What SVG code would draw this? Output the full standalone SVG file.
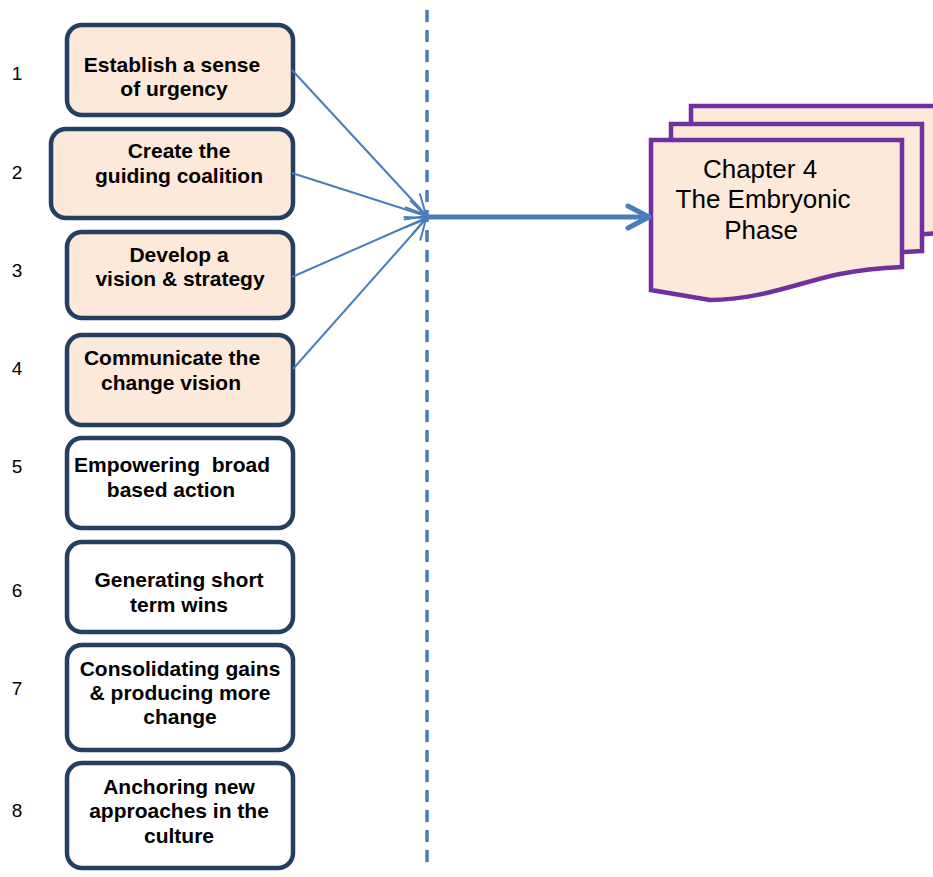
<svg xmlns="http://www.w3.org/2000/svg" width="933" height="877" viewBox="0 0 933 877">
<defs>
<style>
.box{stroke:#243F60;stroke-width:4.5;}
.hot{fill:#FDE9D9;}
.cold{fill:#FFFFFF;}
.lbl{font-family:"Liberation Sans",Arial,sans-serif;font-size:21px;font-weight:bold;fill:#000;text-anchor:middle;}
.num{font-family:"Liberation Sans",Arial,sans-serif;font-size:19px;fill:#000;text-anchor:middle;}
.doc{fill:#FDE9D9;stroke:#7030A0;stroke-width:4.5;stroke-linejoin:miter;}
.ch{font-family:"Liberation Sans",Arial,sans-serif;font-size:26px;fill:#000;text-anchor:middle;}
.thin{stroke:#4A7EBB;stroke-width:2;fill:none;}
</style>
<marker id="openArrow" markerUnits="userSpaceOnUse" markerWidth="30" markerHeight="30" refX="0" refY="0" viewBox="-25 -15 30 30" orient="auto" overflow="visible">
<path d="M-20,-10 L0,0 L-20,10" fill="none" stroke="#4A7EBB" stroke-width="2"/>
</marker>
<path id="docShape" d="M651,140 H902 V267 C880,268 860,270 840,274 C800,282 760,300 710,300 L651,290 Z"/>
</defs>
<rect width="933" height="877" fill="#FFFFFF"/>

<g id="numbers">
<text class="num" x="17" y="80">1</text>
<text class="num" x="17" y="179">2</text>
<text class="num" x="17" y="277">3</text>
<text class="num" x="17" y="375">4</text>
<text class="num" x="17" y="473">5</text>
<text class="num" x="17" y="597">6</text>
<text class="num" x="17" y="695">7</text>
<text class="num" x="17" y="817">8</text>
</g>

<g id="step1">
<rect class="box hot" x="67" y="25" width="226" height="90" rx="15"/>
<text class="lbl" x="172" y="72">Establish a sense</text>
<text class="lbl" x="174" y="96">of urgency</text>
</g>
<g id="step2">
<rect class="box hot" x="51" y="129" width="242" height="89" rx="15"/>
<text class="lbl" x="179" y="158">Create the</text>
<text class="lbl" x="179" y="183">guiding coalition</text>
</g>
<g id="step3">
<rect class="box hot" x="67" y="232" width="226" height="86" rx="15"/>
<text class="lbl" x="179" y="262">Develop a</text>
<text class="lbl" x="180" y="286">vision &amp; strategy</text>
</g>
<g id="step4">
<rect class="box hot" x="67" y="335" width="226" height="90" rx="15"/>
<text class="lbl" x="172" y="365">Communicate the</text>
<text class="lbl" x="171" y="390">change vision</text>
</g>
<g id="step5">
<rect class="box cold" x="67" y="438" width="226" height="90" rx="15"/>
<text class="lbl" x="172" y="472" xml:space="preserve">Empowering  broad</text>
<text class="lbl" x="171" y="497">based action</text>
</g>
<g id="step6">
<rect class="box cold" x="67" y="542" width="226" height="90" rx="15"/>
<text class="lbl" x="179" y="587">Generating short</text>
<text class="lbl" x="179" y="612">term wins</text>
</g>
<g id="step7">
<rect class="box cold" x="67" y="645" width="226" height="105" rx="15"/>
<text class="lbl" x="180" y="676">Consolidating gains</text>
<text class="lbl" x="180" y="700">&amp; producing more</text>
<text class="lbl" x="180" y="724">change</text>
</g>
<g id="step8">
<rect class="box cold" x="67" y="763" width="226" height="105" rx="15"/>
<text class="lbl" x="179" y="794">Anchoring new</text>
<text class="lbl" x="179" y="818">approaches in the</text>
<text class="lbl" x="179" y="843">culture</text>
</g>

<g id="divider">
<line x1="427" y1="10" x2="427" y2="870" stroke="#4A7EBB" stroke-width="3.5" stroke-dasharray="12 8"/>
</g>

<g id="chapter4">
<use href="#docShape" class="doc" transform="translate(40,-34)"/>
<use href="#docShape" class="doc" transform="translate(20,-16)"/>
<use href="#docShape" class="doc"/>
<text class="ch" x="760" y="178">Chapter 4</text>
<text class="ch" x="763" y="208">The Embryonic</text>
<text class="ch" x="761" y="239">Phase</text>
</g>

<g id="connectors">
<line class="thin" x1="292" y1="70" x2="426" y2="215" marker-end="url(#openArrow)"/>
<line class="thin" x1="292" y1="173" x2="426" y2="216" marker-end="url(#openArrow)"/>
<line class="thin" x1="292" y1="277" x2="426" y2="218" marker-end="url(#openArrow)"/>
<line class="thin" x1="293" y1="369" x2="426" y2="219" marker-end="url(#openArrow)"/>
<line x1="427" y1="217" x2="648" y2="217" stroke="#4A7EBB" stroke-width="5"/>
<path d="M628,206 L649,217 L628,228" fill="none" stroke="#4A7EBB" stroke-width="5" stroke-linecap="round" stroke-linejoin="round"/>
</g>
</svg>
